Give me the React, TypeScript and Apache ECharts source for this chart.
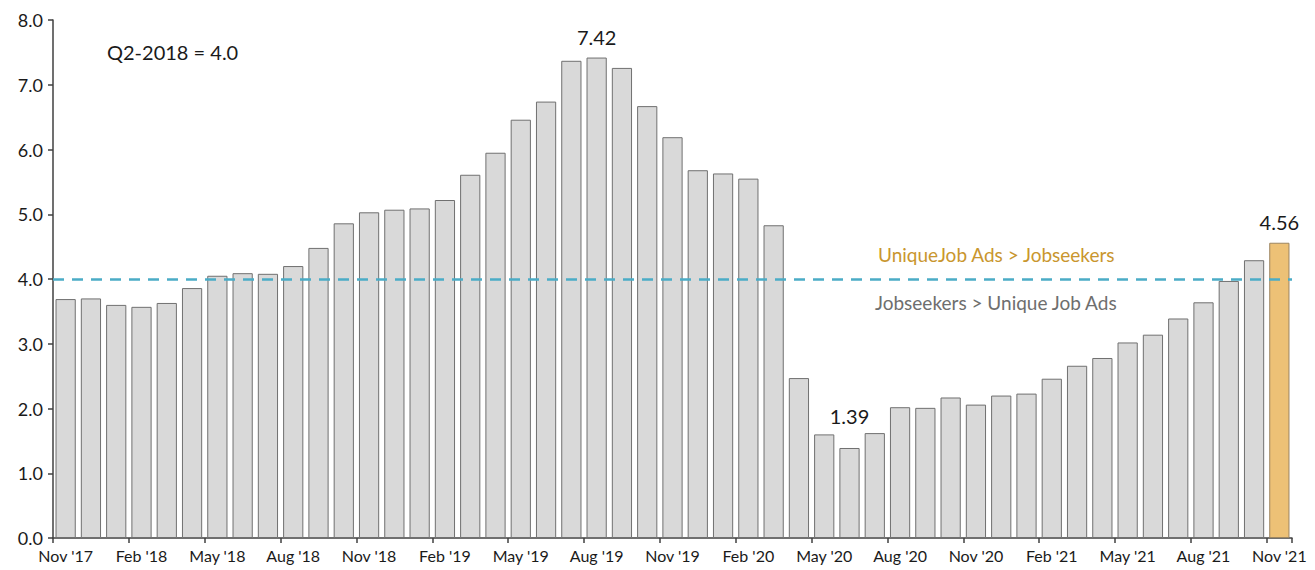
import React, { useEffect, useRef } from "react";
import * as echarts from "echarts";

const months: string[] = [
  "Nov '17", "Dec '17", "Jan '18", "Feb '18", "Mar '18", "Apr '18", "May '18", "Jun '18", "Jul '18", "Aug '18",
  "Sep '18", "Oct '18", "Nov '18", "Dec '18", "Jan '19", "Feb '19", "Mar '19", "Apr '19", "May '19", "Jun '19",
  "Jul '19", "Aug '19", "Sep '19", "Oct '19", "Nov '19", "Dec '19", "Jan '20", "Feb '20", "Mar '20", "Apr '20",
  "May '20", "Jun '20", "Jul '20", "Aug '20", "Sep '20", "Oct '20", "Nov '20", "Dec '20", "Jan '21", "Feb '21",
  "Mar '21", "Apr '21", "May '21", "Jun '21", "Jul '21", "Aug '21", "Sep '21", "Oct '21", "Nov '21",
];

const ratio: number[] = [
  3.69, 3.70, 3.60, 3.57, 3.63, 3.86, 4.05, 4.09, 4.08, 4.20,
  4.48, 4.86, 5.03, 5.07, 5.09, 5.22, 5.61, 5.95, 6.46, 6.74,
  7.37, 7.42, 7.26, 6.67, 6.19, 5.68, 5.63, 5.55, 4.83, 2.47,
  1.60, 1.39, 1.62, 2.02, 2.01, 2.17, 2.06, 2.20, 2.23, 2.46,
  2.66, 2.78, 3.02, 3.14, 3.39, 3.64, 3.97, 4.29, 4.56,
];

const labelledMonths: string[] = ["Aug '19", "Jun '20", "Nov '21"];
const highlightMonth = "Nov '21";
const baseline = 4.0;
const yTicks: number[] = [0, 1, 2, 3, 4, 5, 6, 7, 8];

const FONT = "Lato";

export default function App() {
  const ref = useRef<HTMLDivElement>(null);

  useEffect(() => {
    if (!ref.current) return;
    const chart = echarts.init(ref.current, undefined, { renderer: "svg" });

    const data = ratio.map((v, i) => {
      const m = months[i];
      const item: any = { value: v };
      if (m === highlightMonth) {
        item.itemStyle = { color: "#EDC176", borderColor: "#9C8560" };
      }
      if (labelledMonths.includes(m)) {
        item.label = {
          show: true,
          position: "top",
          distance: m === "Jun '20" ? 22 : 11,
          formatter: v.toFixed(2),
          fontFamily: FONT,
          fontSize: 20,
          color: "#1a1a1a",
        };
      }
      return item;
    });

    chart.setOption({
      animation: false,
      backgroundColor: "#ffffff",
      grid: { left: 53, right: 23, top: 20, bottom: 32, containLabel: false },
      xAxis: {
        type: "category",
        data: months,
        boundaryGap: true,
        axisLine: { show: true, lineStyle: { color: "#404040", width: 1.5 } },
        axisTick: { show: true, interval: 2, length: 5, lineStyle: { color: "#404040", width: 1.5 } },
        axisLabel: {
          interval: 2,
          fontFamily: FONT,
          fontSize: 16,
          color: "#1a1a1a",
          margin: 9,
        },
      },
      yAxis: {
        type: "value",
        min: yTicks[0],
        max: yTicks[yTicks.length - 1],
        interval: 1,
        splitLine: { show: false },
        axisLine: { show: true, lineStyle: { color: "#404040", width: 1.5 } },
        axisTick: { show: true, length: 5, lineStyle: { color: "#404040", width: 1.5 } },
        axisLabel: {
          fontFamily: FONT,
          fontSize: 18,
          color: "#1a1a1a",
          margin: 10,
          formatter: (v: number) => v.toFixed(1),
        },
      },
      series: [
        {
          type: "bar",
          data,
          barCategoryGap: "20%",
          itemStyle: { color: "#D9D9D9", borderColor: "#707070", borderWidth: 1 },
          label: { show: false },
          markLine: {
            silent: true,
            symbol: "none",
            z: 10,
            label: { show: false },
            lineStyle: { color: "#4BACC6", width: 2.5, type: [11, 8] },
            data: [{ yAxis: baseline }],
          },
        },
      ],
      graphic: [
        {
          type: "text",
          left: 107,
          top: 42,
          style: { text: "Q2-2018 = 4.0", fontFamily: FONT, fontSize: 20, fill: "#1a1a1a" },
        },
        {
          type: "text",
          left: 878,
          top: 245,
          style: { text: "UniqueJob Ads > Jobseekers", fontFamily: FONT, fontSize: 19, fill: "#C9962E" },
        },
        {
          type: "text",
          left: 875,
          top: 293,
          style: { text: "Jobseekers > Unique Job Ads", fontFamily: FONT, fontSize: 19, fill: "#6E6E6E" },
        },
      ],
    });

    return () => chart.dispose();
  }, []);

  return <div ref={ref} style={{ width: 1315, height: 570, position: "absolute", left: 0, top: 0 }} />;
}
